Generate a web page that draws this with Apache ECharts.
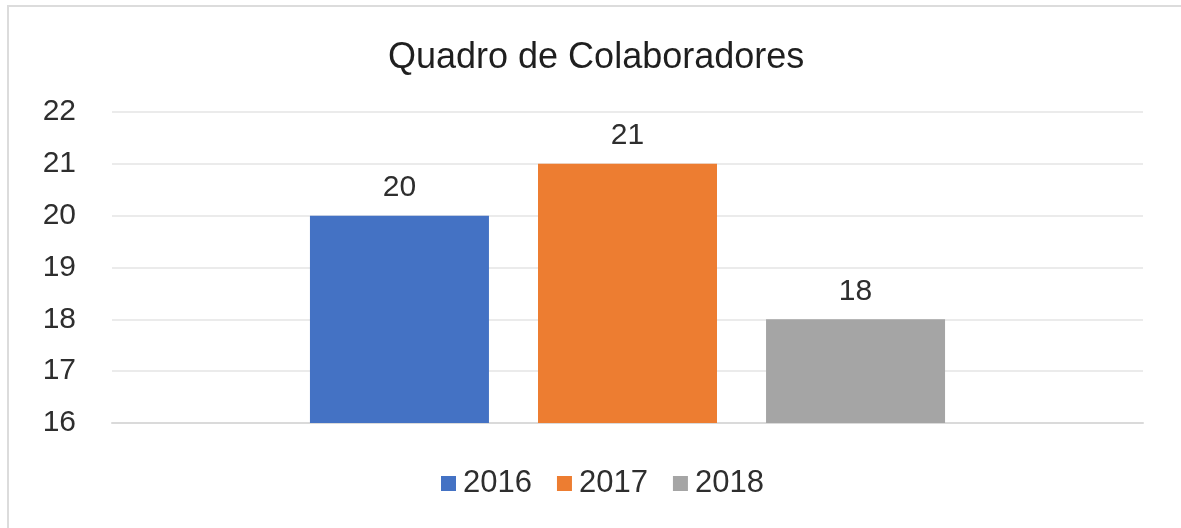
<!DOCTYPE html>
<html>
<head>
<meta charset="utf-8">
<script src="https://cdn.jsdelivr.net/npm/echarts@6/dist/echarts.min.js"></script>
<style>
  html, body { margin: 0; padding: 0; background: #fff; }
  #frame {
    position: absolute; left: 7px; top: 5px; width: 1200px; height: 560px;
    border-left: 2px solid #dcdcdc; border-top: 2px solid #dcdcdc;
  }
  #chart { position: absolute; left: 0; top: 0; width: 1181px; height: 528px; }
</style>
</head>
<body>
<div id="frame"></div>
<div id="chart"></div>
<script>
// Headcount per year
const categories = ['Colaboradores'];
const years = ['2016', '2017', '2018'];
const headcount2016 = [20];
const headcount2017 = [21];
const headcount2018 = [18];
const yTicks = { min: 16, max: 22, interval: 1 };

const colors = ['#4472C4', '#ED7D31', '#A5A5A5'];
const seriesValues = [headcount2016, headcount2017, headcount2018];
const font = 'Liberation Sans, Arial, sans-serif';

const chart = echarts.init(document.getElementById('chart'));
chart.setOption({
  animation: false,
  title: {
    text: 'Quadro de Colaboradores',
    left: 383,
    top: 35,
    textStyle: { fontFamily: font, fontSize: 36, fontWeight: 'normal', color: '#1f1f1f' }
  },
  legend: {
    data: years,
    left: 436,
    top: 463,
    itemWidth: 15,
    itemHeight: 15,
    itemGap: 25,
    icon: 'rect',
    textStyle: { fontFamily: font, fontSize: 31, color: '#2e2e2e', padding: [0, 0, 0, 2] }
  },
  grid: { left: 112, right: 38, top: 112, bottom: 105, containLabel: false },
  xAxis: {
    type: 'category',
    data: categories,
    axisLine: { show: true, lineStyle: { color: '#dadada', width: 2 } },
    axisTick: { show: false },
    axisLabel: { show: false }
  },
  yAxis: {
    type: 'value',
    min: yTicks.min,
    max: yTicks.max,
    interval: yTicks.interval,
    axisLine: { show: false },
    axisTick: { show: false },
    axisLabel: { fontFamily: font, fontSize: 30, color: '#2e2e2e', margin: 36 },
    splitLine: { lineStyle: { color: '#e4e4e4', width: 1.5 } }
  },
  series: years.map((y, i) => ({
    name: y,
    type: 'bar',
    data: seriesValues[i],
    barWidth: 179,
    barGap: '27.4%',
    itemStyle: { color: colors[i] },
    label: {
      show: true,
      position: 'top',
      distance: 13,
      fontFamily: font,
      fontSize: 30,
      color: '#2e2e2e'
    }
  }))
});
</script>
</body>
</html>
